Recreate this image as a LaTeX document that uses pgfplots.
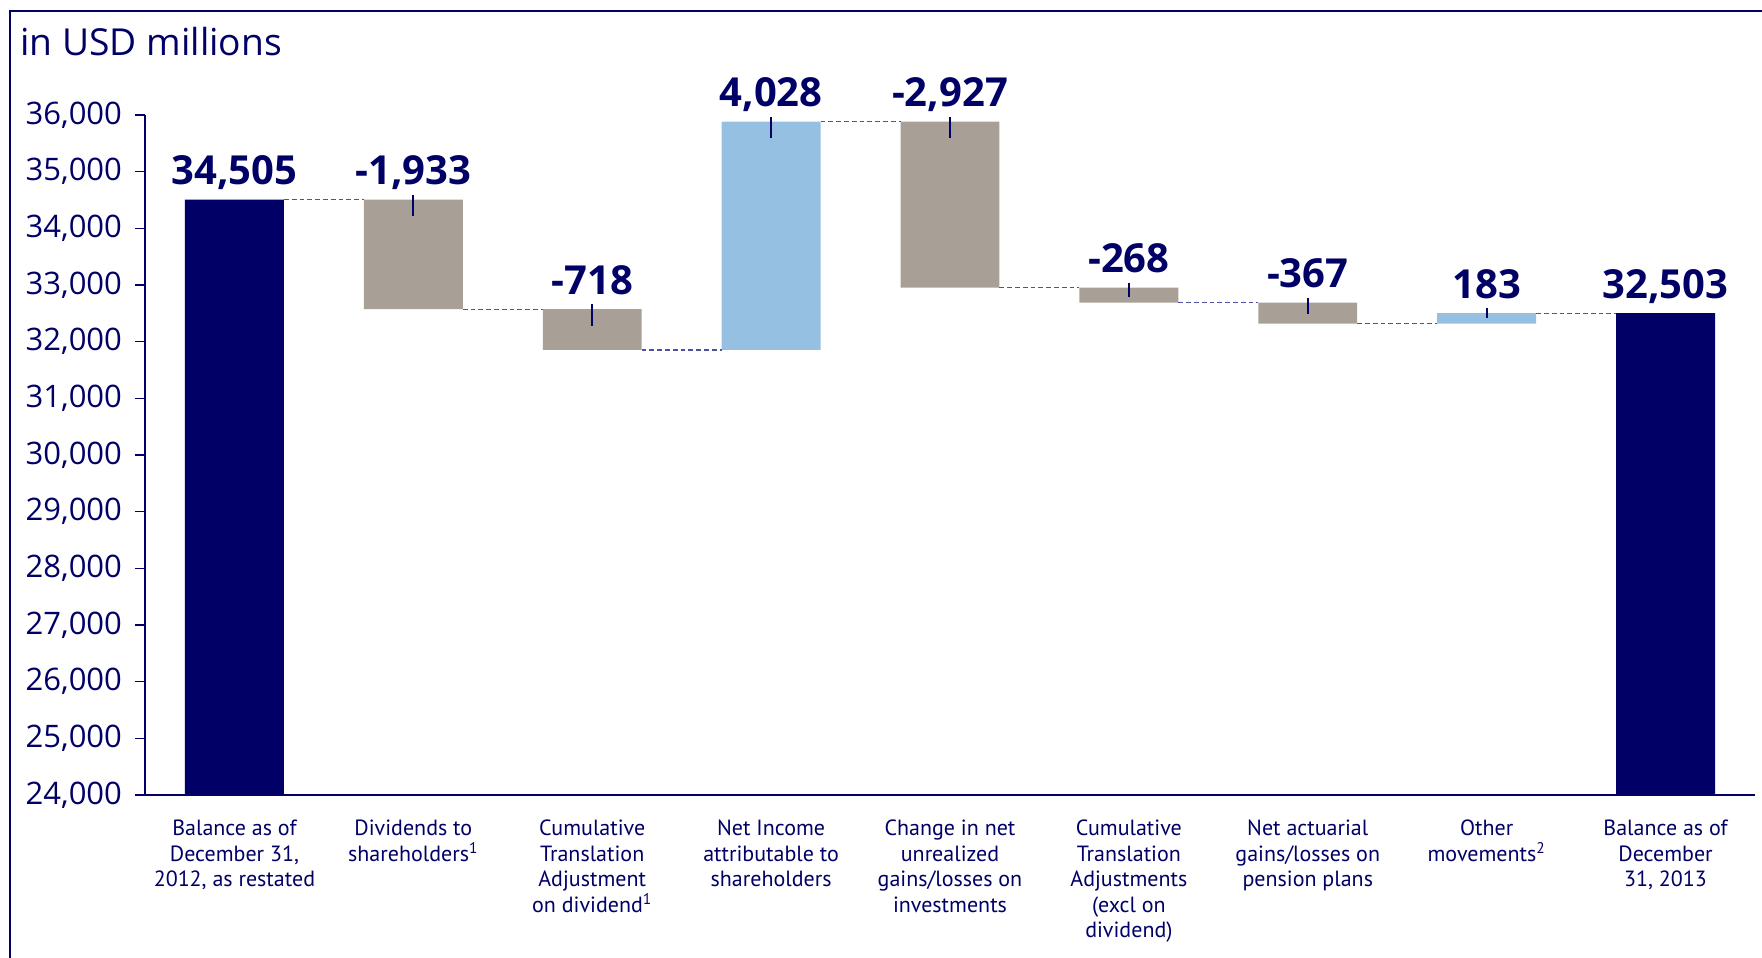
\documentclass[border=0pt]{standalone}
\usepackage{fontspec}
\setmainfont{Open Sans}
\newfontfamily\catfont{PT Sans}
\usepackage{pgfplots}
\usepackage{pgfplotstable}
\pgfplotsset{compat=1.18}
\definecolor{navy}{HTML}{000066}
\definecolor{taupe}{HTML}{A89F96}
\definecolor{lblue}{HTML}{96C0E2}
\definecolor{conn}{HTML}{5050A0}

\pgfplotstableread{
x base navy grey blue
0 0 34505 0 0
1 32572 0 1933 0
2 31854 0 718 0
3 31854 0 0 4028
4 32955 0 2927 0
5 32687 0 268 0
6 32320 0 367 0
7 32320 0 0 183
8 0 32503 0 0
}\bars

\pgfplotstableread{
x y lab
0 34505 34,505
1 34505 -1,933
2 32572 -718
3 35882 4,028
4 35882 -2,927
5 32955 -268
6 32687 -367
7 32503 183
8 32503 32,503
}\labels

\begin{document}
\begin{tikzpicture}
\path[use as bounding box] (0,0) rectangle (881pt,479pt);
\draw[navy, line width=1pt] (5pt,0) -- (5pt,473.5pt) -- (881pt,473.5pt);
\node[anchor=base west, text=navy, font=\fontsize{18.6}{22}\selectfont, inner sep=0pt] at (10pt,451pt) {in USD millions};
\pgfplotsset{
  common/.style={
    scale only axis, width=805pt, height=340pt,
    at={(72.5pt,81.5pt)}, anchor=south west,
    xmin=-0.5, xmax=8.5, ymin=24000, ymax=36000,
  }
}
\begin{axis}[common,
  ybar stacked, bar width=0.553,
  axis x line*=bottom, axis y line*=left,
  axis line style={navy, line width=0.75pt},
  ytick={24000,25000,...,36000},
  scaled y ticks=false,
  tick align=outside, major tick length=5pt,
  ytick style={navy, line width=0.75pt},
  xtick style={draw=none},
  yticklabel style={font=\fontsize{15.5}{18}\selectfont, text=navy, xshift=-3pt},
  /pgf/number format/.cd, 1000 sep={,}, assume math mode=true, /pgfplots/.cd,
  xtick={0,...,8},
  xticklabels={
    {Balance as of\\December 31,\\2012, as restated},
    {Dividends to\\shareholders\textsuperscript{1}},
    {Cumulative\\Translation\\Adjustment\\on dividend\textsuperscript{1}},
    {Net Income\\attributable to\\shareholders},
    {Change in net\\unrealized\\gains/losses on\\investments},
    {Cumulative\\Translation\\Adjustments\\(excl on\\dividend)},
    {Net actuarial\\gains/losses on\\pension plans},
    {Other\\movements\textsuperscript{2}},
    {Balance as of\\December\\31, 2013}},
  xticklabel style={align=center, font=\catfont\fontsize{11}{12.75}\selectfont, text=navy, anchor=north, yshift=-4pt},
]
\addplot[fill=none, draw=none] table[x=x,y=base]{\bars};
\addplot[fill=navy, draw=none] table[x=x,y=navy]{\bars};
\addplot[fill=taupe, draw=none] table[x=x,y=grey]{\bars};
\addplot[fill=lblue, draw=none] table[x=x,y=blue]{\bars};
\end{axis}
\begin{axis}[common, hide axis, clip=false, unbounded coords=jump]
\addplot[conn, line width=0.6pt, dash pattern=on 2.4pt off 1.5pt] coordinates {
(0.2765,34505) (0.7235,34505) (0.5,nan)
(1.2765,32572) (1.7235,32572) (1.5,nan)
(2.2765,31854) (2.7235,31854) (2.5,nan)
(3.2765,35882) (3.7235,35882) (3.5,nan)
(4.2765,32955) (4.7235,32955) (4.5,nan)
(5.2765,32687) (5.7235,32687) (5.5,nan)
(6.2765,32320) (6.7235,32320) (6.5,nan)
(7.2765,32503) (7.7235,32503)
};
\addplot[navy, line width=1pt] coordinates {
(1,34593) (1,34210) (1.5,nan)
(2,32660) (2,32272) (2.5,nan)
(3,35970) (3,35587) (3.5,nan)
(4,35970) (4,35587) (4.5,nan)
(5,33043) (5,32785) (5.5,nan)
(6,32775) (6,32484) (6.5,nan)
(7,32591) (7,32415)
};
\addplot[draw=none, mark=none, nodes near coords, point meta=explicit symbolic,
  every node near coord/.append style={anchor=base, yshift=7.5pt, font=\bfseries\fontsize{20}{22}\selectfont, text=navy}]
  table[x=x, y=y, meta=lab]{\labels};
\end{axis}
\end{tikzpicture}
\end{document}
